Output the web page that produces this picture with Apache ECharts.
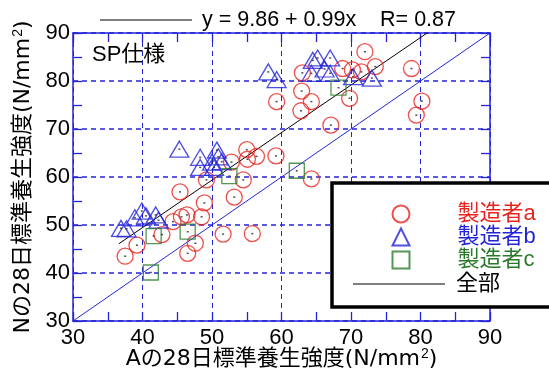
<!DOCTYPE html>
<html>
<head>
<meta charset="utf-8">
<script src="https://cdn.jsdelivr.net/npm/echarts@6/dist/echarts.min.js"></script>
<style>
  html, body { margin: 0; padding: 0; background: #fff; }
  #chart { width: 549px; height: 369px; }
</style>
</head>
<body>
<div id="chart"></div>
<script>
// Axis ticks shared by both axes (N/mm2)
const axisTicks = [30, 40, 50, 60, 70, 80, 90];

// Manufacturer a: [A strength, N strength]
const makerA = [
  [37.5, 43.5], [39.2, 45.8], [42.8, 48.0], [44.4, 50.7], [45.6, 51.7],
  [46.4, 52.1], [48.5, 51.7], [46.5, 44.1], [47.6, 46.2], [51.6, 48.1],
  [55.8, 48.2], [45.4, 56.9], [48.9, 54.6], [53.2, 55.8], [49.2, 59.4],
  [54.5, 59.4], [52.8, 63.1], [55.0, 65.7], [55.1, 63.7], [56.4, 64.3],
  [59.2, 64.4], [64.3, 59.6], [59.3, 75.7], [62.9, 77.9], [62.8, 73.8],
  [64.3, 75.7], [67.1, 70.8], [69.8, 76.4], [63.0, 81.7], [68.8, 82.6],
  [70.2, 82.3], [71.5, 81.9], [73.5, 83.0], [72.0, 86.1], [78.7, 82.6],
  [80.2, 75.8], [79.4, 72.9]
];

// Manufacturer b
const makerB = [
  [36.9, 49.3], [37.7, 49.2], [38.9, 51.5], [39.9, 52.9], [40.5, 51.9],
  [41.9, 52.1], [42.3, 51.0],
  [45.3, 65.8], [48.3, 64.1], [48.3, 62.0], [50.0, 63.1], [50.7, 65.6],
  [50.9, 64.2], [50.3, 62.0], [51.4, 63.2],
  [58.1, 81.9], [59.3, 80.3], [64.5, 84.3], [65.2, 84.8], [67.0, 84.8],
  [64.3, 81.6], [66.2, 82.5], [67.0, 81.6], [70.3, 80.9], [73.0, 80.6]
];

// Manufacturer c
const makerC = [
  [41.2, 40.1], [41.6, 47.7], [46.5, 48.6], [52.5, 60.2], [62.2, 61.3], [68.2, 78.6]
];

// Regression over all data: y = intercept + slope * x
const intercept = 9.86;
const slope = 0.99;
const corrR = 0.87;
const fitXStart = 36.6;

const seriesNames = ['製造者a', '製造者b', '製造者c'];
const allName = '全部';

const FONT = "'Liberation Sans', Arial, 'Noto Sans CJK JP', sans-serif";
const TITLE_FONT = "'DejaVu Sans', 'Noto Sans CJK JP', sans-serif";
const RED = '#e8241f';
const BLUE = '#2323d9';
const GREEN = '#2b7a2b';

const axMin = axisTicks[0];
const axMax = axisTicks[axisTicks.length - 1];
const axStep = axisTicks[1] - axisTicks[0];

const fitXEnd = Math.min(axMax, (axMax - intercept) / slope);
const fitLine = [
  [fitXStart, intercept + slope * fitXStart],
  [fitXEnd, intercept + slope * fitXEnd]
];
const unityLine = [[axMin, axMin], [axMax, axMax]];

const gridSplit = (on, w) => ({ show: on, lineStyle: { color: BLUE, type: [5, 4], width: w, opacity: 1 } });

function baseAxis(extra) {
  return Object.assign({
    type: 'value',
    min: axMin,
    max: axMax,
    interval: axStep,
    axisLine: { show: true, lineStyle: { color: BLUE, width: 1.5 } },
    axisTick: { show: true, inside: true, length: 9, lineStyle: { color: BLUE, width: 1.3 } },
    minorTick: { show: true, splitNumber: 2, length: 9, lineStyle: { color: BLUE, width: 1.3 } },
    minorSplitLine: { show: false },
    splitArea: { show: false },
    splitLine: gridSplit(false, 1),
    axisLabel: { show: false }
  }, extra);
}

const labelStyle = () => ({ show: true, fontSize: 22, color: '#000', fontFamily: FONT });
const nameStyle = () => ({
  fontSize: 22, color: '#000', fontFamily: TITLE_FONT,
  rich: { s: { fontSize: 14, fontFamily: FONT, color: '#000', padding: [0, 0, 11, 1] } }
});

const markerStyle = (c) => ({ color: 'rgba(0,0,0,0)', borderColor: c, borderWidth: 1.3 });
const legendText = (c, pad) => ({ color: c, fontSize: 22, fontFamily: FONT, padding: [0, 0, 0, pad] });

const option = {
  animation: false,
  grid: { left: 73, right: 59, top: 33, bottom: 48, outerBoundsMode: 'none' },
  xAxis: [
    baseAxis({
      position: 'bottom',
      splitLine: gridSplit(true, 1),
      axisLabel: Object.assign({ margin: 6 }, labelStyle()),
      name: 'Aの28日標準養生強度(N/mm{s|2})',
      nameLocation: 'middle',
      nameGap: 26,
      nameMoveOverlap: false,
      nameTextStyle: nameStyle()
    }),
    baseAxis({ position: 'top' })
  ],
  yAxis: [
    baseAxis({
      position: 'left',
      axisLabel: Object.assign({ margin: 3 }, labelStyle()),
      name: 'Nの28日標準養生強度(N/mm{s|2})',
      nameLocation: 'middle',
      nameGap: 37,
      nameMoveOverlap: false,
      nameTextStyle: nameStyle()
    }),
    // horizontal dashed grid is carried by the right-hand axis
    baseAxis({ position: 'right', splitLine: gridSplit(true, 1.5) })
  ],
  legend: [
    {
      orient: 'vertical',
      left: 386.5,
      top: 198,
      padding: 5,
      itemWidth: 17,
      itemHeight: 17,
      itemGap: 1,
      selectedMode: false,
      textStyle: legendText('#000', 43),
      data: [
        { name: seriesNames[0], icon: 'circle', textStyle: legendText(RED, 43) },
        { name: seriesNames[1], icon: 'triangle', textStyle: legendText(BLUE, 43) },
        { name: seriesNames[2], icon: 'rect', textStyle: legendText(GREEN, 43) }
      ]
    },
    {
      left: 348,
      top: 268,
      padding: 5,
      itemWidth: 92,
      itemHeight: 1,
      selectedMode: false,
      textStyle: legendText('#000', 6),
      data: [{ name: allName, icon: 'rect', textStyle: legendText('#000', 6) }]
    }
  ],
  graphic: [
    {
      type: 'rect', z: 3,
      shape: { x: 332, y: 183, width: 240, height: 124 },
      style: { fill: '#fff', stroke: '#000', lineWidth: 3.5 }
    },
    {
      type: 'line', z: 3,
      shape: { x1: 100, y1: 20, x2: 192, y2: 20 },
      style: { stroke: '#000', lineWidth: 1 }
    },
    {
      type: 'text', z: 3, left: 202, top: 9,
      style: {
        text: 'y = ' + intercept.toFixed(2) + ' + ' + slope.toFixed(2) + 'x    R= ' + corrR.toFixed(2),
        fontSize: 21.5, fontFamily: FONT, fill: '#000'
      }
    },
    {
      type: 'text', z: 3, left: 92, top: 44,
      style: { text: 'SP仕様', fontSize: 22, fontFamily: FONT, fill: '#000' }
    }
  ],
  series: [
    {
      name: allName, type: 'line', data: fitLine, showSymbol: false, symbol: 'none',
      lineStyle: { color: '#000', width: 1 }, itemStyle: { color: '#000' }, z: 2, silent: true
    },
    {
      name: 'unity', type: 'line', data: unityLine, showSymbol: false, symbol: 'none',
      lineStyle: { color: BLUE, width: 1 }, z: 2, silent: true
    },
    {
      name: seriesNames[0], type: 'scatter', data: makerA, symbol: 'circle', symbolSize: 16,
      itemStyle: markerStyle(RED), z: 2
    },
    {
      name: seriesNames[1], type: 'scatter', data: makerB, symbol: 'triangle', symbolSize: [19, 16],
      itemStyle: markerStyle(BLUE), z: 2
    },
    {
      name: seriesNames[2], type: 'scatter', data: makerC, symbol: 'rect', symbolSize: 15,
      itemStyle: markerStyle(GREEN), z: 2
    },
    {
      name: 'points', type: 'scatter', data: makerA.concat(makerB, makerC), symbol: 'rect',
      symbolSize: [2, 1.5], itemStyle: { color: '#222' }, z: 2, silent: true
    }
  ]
};

const chart = echarts.init(document.getElementById('chart'), null, { renderer: 'canvas' });
chart.setOption(option);
</script>
</body>
</html>
